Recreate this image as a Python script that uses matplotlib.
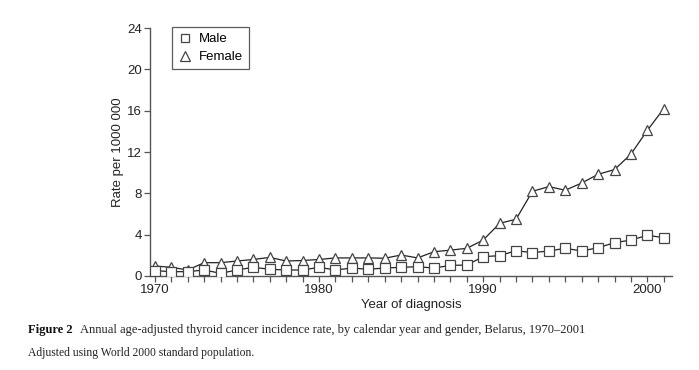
import matplotlib
matplotlib.use("Agg")
import matplotlib.pyplot as plt
from matplotlib.lines import Line2D

years = list(range(1970, 2002))
male = [0.52, 0.42, 0.42, 0.58, 0.26, 0.58, 0.84, 0.65, 0.58, 0.58,
        0.84, 0.58, 0.77, 0.65, 0.77, 0.84, 0.90, 0.77, 1.03, 1.06,
        1.87, 1.97, 2.45, 2.26, 2.42, 2.68, 2.42, 2.74, 3.22, 3.48,
        3.94, 3.71]
female = [0.97, 0.84, 0.58, 1.29, 1.29, 1.45, 1.60, 1.80, 1.45, 1.50,
          1.60, 1.75, 1.75, 1.75, 1.72, 2.03, 1.75, 2.35, 2.50, 2.68,
          3.48, 5.10, 5.49, 8.20, 8.65, 8.30, 9.00, 9.84, 10.30, 11.80,
          14.10, 16.20]
y_ticks = [0, 4, 8, 12, 16, 20, 24]
x_labels = [1970, 1980, 1990, 2000]

plt.rcParams['font.family'] = ['Liberation Sans', 'DejaVu Sans']
fig = plt.figure(figsize=(6.99, 3.70), dpi=100)
ax = fig.add_axes([150/699, 1-276/370, (672-150)/699, (276-28)/370])

lc = '#222222'
mc = '#444444'
ax.plot(years, female, color=lc, lw=0.9, marker='^', ms=7, mfc='white',
        mec=mc, mew=0.9, zorder=3)
ax.plot(years, male, color=lc, lw=0.9, marker='s', ms=6.5, mfc='white',
        mec=mc, mew=0.9, zorder=3)

ax.set_xlim(1969.7, 2001.5)
ax.set_ylim(0, 24)
ax.set_yticks(y_ticks)
ax.set_xticks(years)
ax.set_xticklabels([str(y) if y in x_labels else '' for y in years])
for s in ['top', 'right']:
    ax.spines[s].set_visible(False)
for s in ['left', 'bottom']:
    ax.spines[s].set_color('#555555')
    ax.spines[s].set_linewidth(1.0)
ax.spines['left'].set_bounds(0, 24)
ax.tick_params(axis='both', direction='out', length=4, width=0.9,
               color='#555555', labelsize=9.5, labelcolor='#222222', pad=2)
ax.set_ylabel('Rate per 1000 000', fontsize=9.5, color='#222222', labelpad=2)
ax.set_xlabel('Year of diagnosis', fontsize=9.5, color='#222222', labelpad=2)

handles = [Line2D([], [], ls='none', marker='s', ms=6, mfc='white', mec=mc, mew=0.9),
           Line2D([], [], ls='none', marker='^', ms=6.5, mfc='white', mec=mc, mew=0.9)]
leg = ax.legend(handles, ['Male', 'Female'], loc='upper left',
                bbox_to_anchor=((172-150)/522, 1.004), borderaxespad=0,
                frameon=True, fancybox=False,
                fontsize=9.5, handlelength=1.0, handletextpad=0.6,
                borderpad=0.45, labelspacing=0.45)
leg.get_frame().set_edgecolor('#333333')
leg.get_frame().set_linewidth(0.9)

fig.text(28/699, 1-330/370, 'Figure 2', fontsize=9, fontweight='bold',
         family='Liberation Serif', va='center', color='#111111')
fig.text(80/699, 1-330/370,
         'Annual age-adjusted thyroid cancer incidence rate, by calendar year and gender, Belarus, 1970\u20132001',
         fontsize=9, family='Liberation Serif', va='center', color='#222222')
fig.text(28/699, 1-353/370, 'Adjusted using World 2000 standard population.',
         fontsize=8.4, family='Liberation Serif', va='center', color='#222222')

fig.savefig('out.png', dpi=100)
